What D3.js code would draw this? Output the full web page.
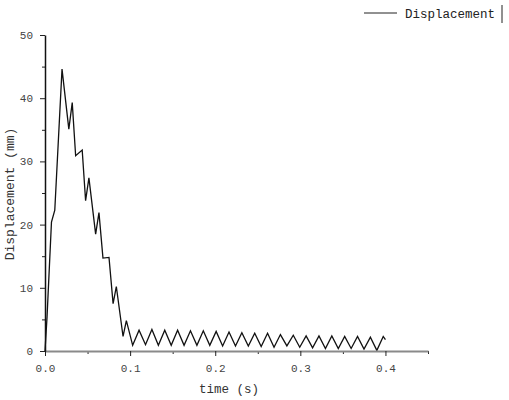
<!DOCTYPE html>
<html><head><meta charset="utf-8">
<script src="https://cdn.jsdelivr.net/npm/d3@7"></script>
<style>body{margin:0;background:#fff}svg{display:block}</style>
</head><body>
<script>
const seriesName = "Displacement";
const xTitle = "time (s)";
const yTitle = "Displacement (mm)";
const xMajorTicks = [0, 0.1, 0.2, 0.3, 0.4];
const xMinorTicks = [0.05, 0.15, 0.25, 0.35, 0.45];
const yMajorTicks = [0, 10, 20, 30, 40, 50];
const yMinorTicks = [5, 15, 25, 35, 45];
const time = [0, 0.0024, 0.0076, 0.0115, 0.020, 0.028, 0.032, 0.036, 0.0437, 0.0477, 0.0516, 0.0595, 0.0634, 0.0681, 0.0752, 0.080, 0.0838, 0.0917, 0.0956,
  0.1030, 0.1105, 0.1181, 0.1256, 0.1332, 0.1407, 0.1483, 0.1558, 0.1634, 0.1709, 0.1785, 0.1860, 0.1936, 0.2011, 0.2087, 0.2162,
  0.2238, 0.2313, 0.2389, 0.2464, 0.2540, 0.2615, 0.2691, 0.2766, 0.2842, 0.2917, 0.2993, 0.3068, 0.3144, 0.3219, 0.3295, 0.3370,
  0.3446, 0.3521, 0.3597, 0.3672, 0.3748, 0.3823, 0.3899, 0.3974, 0.4000];
const displacement = [0, 5.4, 20.4, 22.3, 44.6, 35.1, 39.3, 30.9, 31.8, 23.8, 27.4, 18.5, 21.9, 14.7, 14.8, 7.5, 10.2, 2.3, 4.8,
  0.9, 3.3, 1.0, 3.4, 0.9, 3.3, 0.9, 3.3, 0.9, 3.2, 0.9, 3.2, 0.9, 3.1, 0.8, 3.0,
  0.8, 2.9, 0.8, 2.8, 0.7, 2.8, 0.6, 2.6, 0.8, 2.5, 0.6, 2.4, 0.5, 2.4, 0.4, 2.4,
  0.4, 2.3, 0.4, 2.3, 0.3, 2.2, 0.1, 2.3, 1.8];

const W = 509, H = 400;
const svg = d3.select("body").append("svg").attr("width", W).attr("height", H);
const x = d3.scaleLinear().domain([0, 0.45]).range([45, 428]);
const y = d3.scaleLinear().domain([0, 50]).range([351, 35]);
const font = "'Liberation Mono', 'DejaVu Sans Mono', monospace";

// data line
const data = time.map((t, i) => [t, displacement[i]]);
svg.append("path").datum(data)
  .attr("d", d3.line().x(d => x(d[0])).y(d => y(d[1])))
  .attr("fill", "none").attr("stroke", "#111").attr("stroke-width", 1.3);

// x axis
const gx = svg.append("g").attr("transform", `translate(0,${y(0)})`);
gx.call(d3.axisBottom(x).tickValues(xMinorTicks).tickSize(3).tickFormat(""))
gx.call(g => g.select(".domain").remove());
const gx2 = svg.append("g").attr("transform", `translate(0,${y(0)})`)
  .call(d3.axisBottom(x).tickValues(xMajorTicks).tickSize(5).tickSizeOuter(0).tickFormat(d3.format(".1f")));
gx2.select(".domain").attr("stroke", "#8a8a8a").attr("stroke-width", 2);
gx2.selectAll("text").attr("font-family", font).attr("font-size", 11).attr("fill", "#444").attr("dy", "1.2em");

// y axis
const gy = svg.append("g").attr("transform", `translate(${x(0)},0)`);
gy.call(d3.axisLeft(y).tickValues(yMinorTicks).tickSize(3).tickFormat(""));
gy.call(g => g.select(".domain").remove());
const gy2 = svg.append("g").attr("transform", `translate(${x(0)},0)`)
  .call(d3.axisLeft(y).tickValues(yMajorTicks).tickSize(5).tickSizeOuter(0).tickFormat(d3.format("d")));
gy2.select(".domain").attr("stroke", "#111").attr("stroke-width", 1.5);
gy2.selectAll("text").attr("font-family", font).attr("font-size", 11).attr("fill", "#444").attr("x", -12);
svg.selectAll(".tick line").attr("stroke", "#222");

// titles
svg.append("text").attr("x", 229).attr("y", 393).attr("text-anchor", "middle")
  .attr("font-family", font).attr("font-size", 12.5).attr("fill", "#333").text(xTitle);
svg.append("text").attr("transform", "translate(14,194) rotate(-90)").attr("text-anchor", "middle")
  .attr("font-family", font).attr("font-size", 13).attr("fill", "#333").text(yTitle);

// legend
svg.append("line").attr("x1", 364).attr("x2", 397).attr("y1", 13).attr("y2", 13)
  .attr("stroke", "#222").attr("stroke-width", 1);
svg.append("text").attr("x", 405).attr("y", 18).attr("font-family", font).attr("font-size", 12.5)
  .attr("fill", "#222").text(seriesName);
svg.append("line").attr("x1", 502).attr("x2", 502).attr("y1", 5).attr("y2", 23)
  .attr("stroke", "#222").attr("stroke-width", 1);
</script>
</body></html>
